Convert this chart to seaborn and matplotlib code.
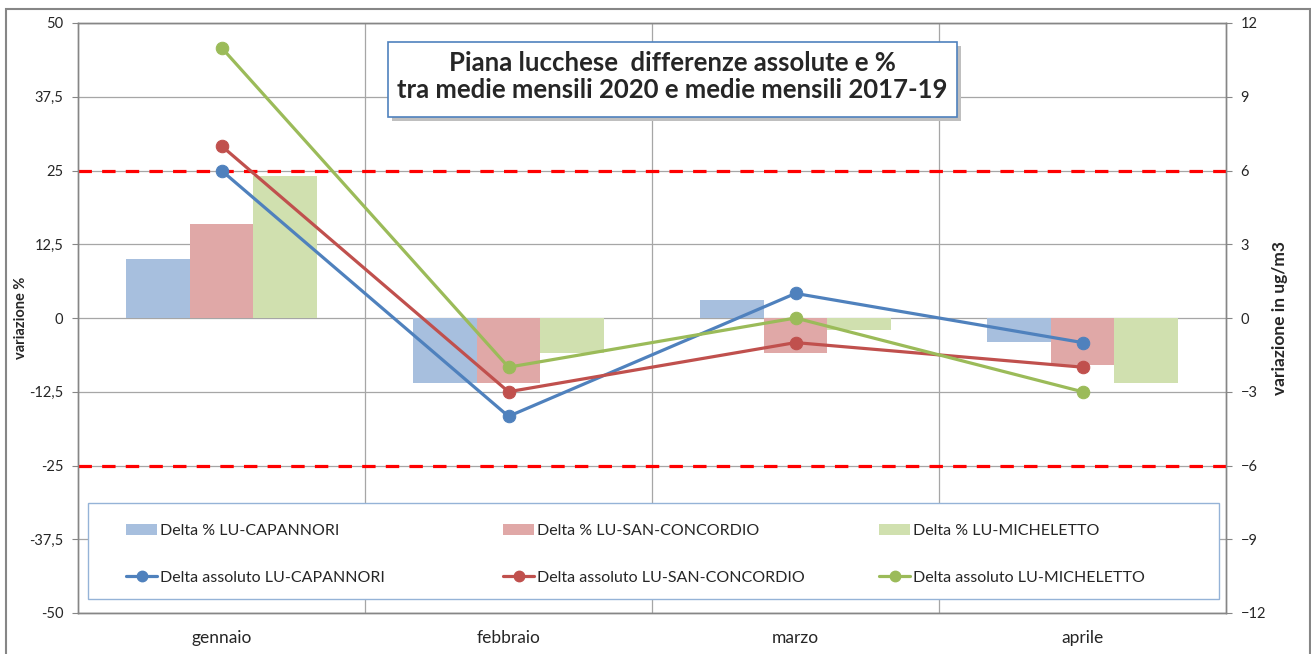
import numpy as np
import pandas as pd
import matplotlib
matplotlib.use('Agg')
import matplotlib.pyplot as plt
import seaborn as sns
from matplotlib.patches import Rectangle, Patch
from matplotlib.lines import Line2D

# Dati
mesi = ['gennaio', 'febbraio', 'marzo', 'aprile']
stazioni = ['LU-CAPANNORI', 'LU-SAN-CONCORDIO', 'LU-MICHELETTO']

delta_pct_capannori = [10, -11, 3, -4]
delta_pct_san_concordio = [16, -11, -6, -8]
delta_pct_micheletto = [24, -6, -2, -11]

delta_abs_capannori = [6, -4, 1, -1]
delta_abs_san_concordio = [7, -3, -1, -2]
delta_abs_micheletto = [11, -2, 0, -3]

soglie_pct = [25, -25]

left_ticks = [-50, -37.5, -25, -12.5, 0, 12.5, 25, 37.5, 50]
left_labels = ['-50', '-37,5', '-25', '-12,5', '0', '12,5', '25', '37,5', '50']
right_ticks = [-12, -9, -6, -3, 0, 3, 6, 9, 12]

bar_colors = ['#A7BFDE', '#E0A8A7', '#D0E0AF']
line_colors = ['#4F81BD', '#C0504D', '#9BBB59']

# tabella lunga per seaborn
df_pct = pd.DataFrame({
    'mese': mesi * 3,
    'stazione': [s for s in stazioni for _ in mesi],
    'pct': delta_pct_capannori + delta_pct_san_concordio + delta_pct_micheletto,
})
abs_series = [delta_abs_capannori, delta_abs_san_concordio, delta_abs_micheletto]

sns.set_style('white')
plt.rcParams['font.family'] = ['Lato', 'DejaVu Sans']

fig = plt.figure(figsize=(13.11, 6.54), dpi=100)
ax = fig.add_axes([78 / 1311, 41 / 654, 1148 / 1311, 590 / 654])

sns.barplot(data=df_pct, x='mese', y='pct', hue='stazione', hue_order=stazioni,
            palette=bar_colors, width=0.667, saturation=1, legend=False,
            edgecolor='none', linewidth=0, ax=ax, zorder=2)

ax.set_xlim(-0.5, 3.5)
ax.set_ylim(-50, 50)
ax.set_yticks(left_ticks)
ax.set_yticklabels(left_labels)
ax.set_xlabel('')
ax.set_ylabel('variazione %', fontsize=10.5, fontweight='bold', labelpad=1)
ax.set_axisbelow(True)
ax.yaxis.grid(True, color='#A6A6A6', lw=0.9)
for xb in [0.5, 1.5, 2.5]:
    ax.axvline(xb, color='#A6A6A6', lw=0.9, zorder=0)
for s in soglie_pct:
    ax.axhline(s, color='#FF0000', lw=2.3, dashes=(4.2, 3.2), zorder=3)

ax.tick_params(axis='y', length=4.5, color='#868686', labelsize=10.5,
               labelcolor='#262626', pad=6)
ax.tick_params(axis='x', length=0, labelsize=12.5, labelcolor='#262626', pad=12)
for sp in ax.spines.values():
    sp.set_color('#868686')
    sp.set_linewidth(1.0)

ax2 = ax.twinx()
for vals, c in zip(abs_series, line_colors):
    sns.lineplot(x=np.arange(len(mesi)), y=vals, ax=ax2, color=c, lw=2.3,
                 marker='o', markersize=9, markeredgecolor=c, zorder=4)
ax2.set_ylim(-12, 12)
ax2.set_yticks(right_ticks)
ax2.set_ylabel('variazione in ug/m3', fontsize=12.5, fontweight='bold', labelpad=4)
ax2.grid(False)
ax2.tick_params(axis='y', length=4.5, color='#868686', labelsize=10.5,
                labelcolor='#262626', pad=6)
for sp in ax2.spines.values():
    sp.set_color('#868686')
    sp.set_linewidth(1.0)

# riquadro legenda
box = Rectangle((10 / 1148, 14 / 590), 1131 / 1148, 96 / 590, transform=ax2.transAxes,
                facecolor='white', edgecolor='#95B3D7', lw=1.0, zorder=5)
ax2.add_patch(box)
col_x = [(126 - 78) / 1148, (503 - 78) / 1148, (879 - 78) / 1148]
legends = []
for i, st in enumerate(stazioni):
    handles = [Patch(facecolor=bar_colors[i], edgecolor='none'),
               Line2D([], [], color=line_colors[i], lw=2.3, marker='o', markersize=7.5)]
    labels = ['Delta % ' + st, 'Delta assoluto ' + st]
    leg = ax2.legend(handles, labels, loc='upper left', bbox_to_anchor=(col_x[i], 0.151),
                     frameon=False, fontsize=11.5, handlelength=1.95, handletextpad=0.15,
                     labelspacing=2.05, borderaxespad=0, borderpad=0)
    leg.set_zorder(6)
    legends.append(leg)
for leg in legends[:-1]:
    ax2.add_artist(leg)

# riquadro titolo con ombra
tx0, tx1 = (388 - 78) / 1148, (957 - 78) / 1148
ty0, ty1 = (613 - 117) / 590, (613 - 42) / 590
shadow = Rectangle((tx0 + 4 / 1148, ty0 - 4 / 590), tx1 - tx0, ty1 - ty0,
                   transform=ax2.transAxes, facecolor='#BFBFBF', edgecolor='none', zorder=6)
ax2.add_patch(shadow)
tbox = Rectangle((tx0, ty0), tx1 - tx0, ty1 - ty0, transform=ax2.transAxes,
                 facecolor='white', edgecolor='#4F81BD', lw=1.2, zorder=7)
ax2.add_patch(tbox)
ax2.text((tx0 + tx1) / 2, (ty0 + ty1) / 2 + 0.005,
         'Piana lucchese  differenze assolute e %\ntra medie mensili 2020 e medie mensili 2017-19',
         transform=ax2.transAxes, ha='center', va='center', fontsize=18.5,
         fontweight='bold', linespacing=1.15, zorder=8)

# cornice esterna
fig.patches.append(Rectangle((6 / 1311, -0.02), 1304 / 1311, (654 - 9) / 654 + 0.02,
                             transform=fig.transFigure, fill=False,
                             edgecolor='#868686', lw=1.5))

fig.savefig('out.png', dpi=100)
